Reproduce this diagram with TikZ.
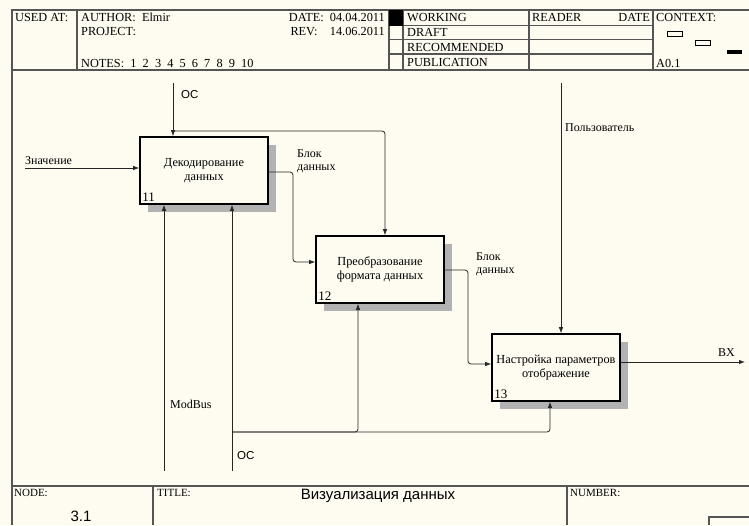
\documentclass[tikz,border=0pt]{standalone}
\usepackage{fontspec}
\setmainfont{Liberation Serif}
\newfontfamily\arial{Liberation Sans}
\usetikzlibrary{arrows.meta,calc}
\definecolor{bgc}{HTML}{FEFBF1}
\definecolor{framec}{HTML}{555555}
\tikzset{
  frm/.style={draw=framec, line width=1.2pt},
  hd/.style={font=\fontsize{12.3}{12}\selectfont, inner sep=0pt, text=black},
  lbl/.style={font=\fontsize{12}{13.5}\selectfont, inner sep=0pt, text=black, align=left},
  sanslbl/.style={font=\arial\fontsize{11.5}{12}\selectfont, inner sep=0pt, text=black},
  fbox/.style={draw=black, line width=1.6pt, fill=bgc, minimum width=128pt, minimum height=67pt, inner sep=0pt, align=center, font=\fontsize{12.3}{14}\selectfont, text=black},
  shade/.style={fill=gray!60},
  arr/.style={draw=black!85, line width=0.8pt, -{Latex[length=6pt,width=4.5pt]}, rounded corners=3pt},
  num/.style={font=\fontsize{13}{13}\selectfont, inner sep=0pt, anchor=south west, text=black},
}
\begin{document}
\begin{tikzpicture}[x=1pt,y=-1pt]
\useasboundingbox (0,0) rectangle (749,525);
\fill[bgc] (0,0) rectangle (749,525);
% ---------- frame and header ----------
\draw[frm] (749,10) -- (12,10) -- (12,525);
\draw[frm] (12,70) -- (749,70);
\draw[frm] (12,486) -- (749,486);
\draw[frm] (77,10) -- (77,70);
\draw[frm] (389,10) -- (389,70);
\draw[frm] (403,10) -- (403,70);
\draw[frm] (529,10) -- (529,70);
\draw[frm] (653,10) -- (653,70);
\draw[frm] (389,25.5) -- (653,25.5);
\draw[frm] (389,39.5) -- (653,39.5);
\draw[frm] (389,54) -- (653,54);
\fill[black] (389,10) rectangle (403,25.5);
\node[hd, anchor=west] (usedat) at (15,17.5) {USED AT:};
\node[hd, anchor=west] (author) at (81,17.5) {AUTHOR:\ \ Elmir};
\node[hd, anchor=west] (project) at (81,32) {PROJECT:};
\node[hd, anchor=west] (notes) at (81,63) {NOTES:\ \ 1\ \ 2\ \ 3\ \ 4\ \ 5\ \ 6\ \ 7\ \ 8\ \ 9\ \ 10};
\node[hd, anchor=east] (date) at (385,17.5) {DATE:\ \ 04.04.2011};
\node[hd, anchor=east] (rev) at (385,32) {REV:\ \ \ \ 14.06.2011};
\node[hd, anchor=west] (working) at (407,17.5) {WORKING};
\node[hd, anchor=west] (draft) at (407,32.5) {DRAFT};
\node[hd, anchor=west] (recom) at (407,47) {RECOMMENDED};
\node[hd, anchor=west] (publ) at (407,62.5) {PUBLICATION};
\node[hd, anchor=west] (reader) at (532,17.5) {READER};
\node[hd, anchor=east] (rdate) at (650,17.5) {DATE};
\node[hd, anchor=west] (context) at (656,17.5) {CONTEXT:};
\node[hd, anchor=west] (a01) at (656,63) {A0.1};
\draw[black, line width=0.8pt] (667,31.5) rectangle (682,36);
\draw[black, line width=0.8pt] (695,40.5) rectangle (710,45);
\fill[black] (727,49.5) rectangle (742,54);
% ---------- footer ----------
\draw[frm] (153,486) -- (153,525);
\draw[frm] (567,486) -- (567,525);
\draw[frm] (709,525) -- (709,517) -- (749,517);
\node[hd, anchor=west, font=\fontsize{11}{11}\selectfont] (nodel) at (14,493) {NODE:};
\node[sanslbl, font=\arial\fontsize{15}{15}\selectfont] (nodenum) at (81,516) {3.1};
\node[hd, anchor=west, font=\fontsize{11}{11}\selectfont] (titlel) at (157,493) {TITLE:};
\node[sanslbl, font=\arial\fontsize{15}{15}\selectfont] (title) at (378,496) {Визуализация данных};
\node[hd, anchor=west, font=\fontsize{11}{11}\selectfont] (numberl) at (570,493) {NUMBER:};
% ---------- boxes ----------
\fill[shade] (148,145) rectangle (276,212);
\fill[shade] (324,244) rectangle (452,311);
\fill[shade] (500,342) rectangle (628,409);
\node[fbox] (b11) at (204,170.5) {Декодирование\\данных};
\node[fbox] (b12) at (380,269.5) {Преобразование\\формата данных};
\node[fbox] (b13) at (556,367.5) {Настройка параметров\\отображение};
\node[num] (n11) at ([shift={(3,-3)}]b11.south west) {11};
\node[num] (n12) at ([shift={(3,-3)}]b12.south west) {12};
\node[num] (n13) at ([shift={(3,-3)}]b13.south west) {13};
% ---------- coordinates ----------
\coordinate (ocT) at (173,83);
\coordinate (ocJ) at (173,131);
\coordinate (c12top) at (385,131);
\coordinate (zn) at (25,168);
\coordinate (y172) at (0,172);
\coordinate (y262) at (0,262);
\coordinate (y270) at (0,270);
\coordinate (y364) at (0,364);
\coordinate (y362) at (0,362);
\coordinate (usr) at (561,83);
\coordinate (bx) at (745,362);
\coordinate (mb) at (164,471);
\coordinate (ocB) at (232,471);
\coordinate (ocBJ) at (232,432);
\coordinate (j12) at (358,432);
\coordinate (j13) at (550,432);
% ---------- connectors ----------
\draw[arr] (ocT) -- (ocT |- b11.north);
\draw[arr] (ocJ) -- (c12top) -- (c12top |- b12.north);
\draw[arr] (zn) -- (zn -| b11.west);
\draw[arr] (b11.east |- y172) -- (293,172) -- (293,262) -- (b12.west |- y262);
\draw[arr] (b12.east |- y270) -- (468,270) -- (468,364) -- (b13.west |- y364);
\draw[arr] (usr) -- (usr |- b13.north);
\draw[arr] (b13.east |- y362) -- (bx);
\draw[arr] (mb) -- (mb |- b11.south);
\draw[arr] (ocB) -- (ocB |- b11.south);
\draw[arr] (ocBJ) -- (j13) -- (j13 |- b13.south);
\draw[arr] (ocBJ) -- (j12) -- (j12 |- b12.south);
% ---------- labels ----------
\node[sanslbl, anchor=west] (ocTl) at (181,95) {OC};
\node[lbl, anchor=south west] (znl) at (25,165) {Значение};
\node[lbl, anchor=north west] (blk1) at (297,149) {Блок\\данных};
\node[lbl, anchor=north west] (blk2) at (476,252) {Блок\\данных};
\node[lbl, anchor=west] (usrl) at (565,128) {Пользователь};
\node[lbl, anchor=west] (bxl) at (718,353) {BX};
\node[lbl, anchor=west] (mbl) at (170,404) {ModBus};
\node[sanslbl, anchor=west] (ocBl) at (237,456) {OC};
\end{tikzpicture}
\end{document}
